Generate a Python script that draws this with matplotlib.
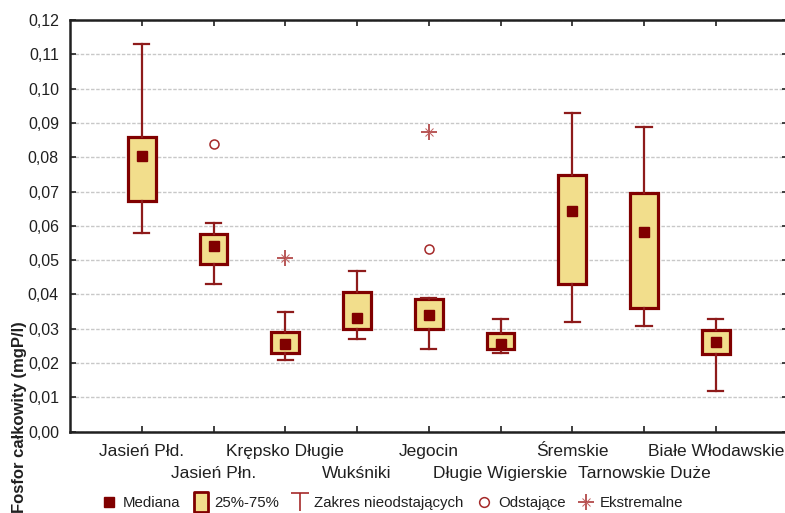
import matplotlib
matplotlib.use('Agg')
import matplotlib.pyplot as plt
from matplotlib.lines import Line2D
from matplotlib.path import Path
from matplotlib.ticker import FuncFormatter

# lakes and box statistics (mgP/l)
names = ['Jasień Płd.', 'Jasień Płn.', 'Krępsko Długie', 'Wukśniki', 'Jegocin',
         'Długie Wigierskie', 'Śremskie', 'Tarnowskie Duże', 'Białe Włodawskie']
median = [0.0804, 0.0541, 0.0256, 0.0331, 0.0340, 0.0255, 0.0643, 0.0582, 0.0261]
q1 = [0.0671, 0.0489, 0.0229, 0.0299, 0.0299, 0.0241, 0.0431, 0.0360, 0.0227]
q3 = [0.0859, 0.0576, 0.0292, 0.0408, 0.0387, 0.0289, 0.0748, 0.0696, 0.0297]
whis_lo = [0.0580, 0.0430, 0.0209, 0.0269, 0.0240, 0.0229, 0.0321, 0.0309, 0.0120]
whis_hi = [0.1129, 0.0609, 0.0350, 0.0469, 0.0391, 0.0329, 0.0929, 0.0889, 0.0329]
# outliers / extremes: (lake number, value)
outlier_pos = [2, 5]
outlier_val = [0.0839, 0.0532]
extreme_pos = [3, 5]
extreme_val = [0.0506, 0.0873]
yticks = [0.00, 0.01, 0.02, 0.03, 0.04, 0.05, 0.06, 0.07, 0.08, 0.09, 0.10, 0.11, 0.12]

DARK = '#800000'
WHISK = '#8e1b1b'
MARK = '#a52a2a'
FILL = '#f2de8c'

plt.rcParams['font.family'] = ['Liberation Sans', 'DejaVu Sans']
plt.rcParams['font.size'] = 11

fig = plt.figure(figsize=(7.85, 5.13), dpi=100)
ax = fig.add_axes([70 / 785, 1 - 431.7 / 513, 717.5 / 785, 411.7 / 513])

pos = list(range(1, len(names) + 1))
stats = []
for i in range(len(names)):
    stats.append({'med': median[i], 'q1': q1[i], 'q3': q3[i],
                  'whislo': whis_lo[i], 'whishi': whis_hi[i], 'fliers': []})

ax.bxp(stats, positions=pos, widths=0.39, capwidths=0.21, patch_artist=True,
       showfliers=False,
       boxprops=dict(facecolor=FILL, edgecolor=DARK, linewidth=2.3),
       whiskerprops=dict(color=WHISK, linewidth=1.6),
       capprops=dict(color=WHISK, linewidth=1.6),
       medianprops=dict(linewidth=0), zorder=3)
ax.plot(pos, median, 's', color=DARK, markersize=7.2, linestyle='none', zorder=4)
ax.plot(outlier_pos, outlier_val, 'o', mfc='none', mec=MARK, mew=1.1,
        markersize=6.5, linestyle='none', zorder=4)
ax.plot(extreme_pos, extreme_val, '+', color=MARK, mew=1.1, markersize=11,
        linestyle='none', zorder=4)
ax.plot(extreme_pos, extreme_val, 'x', color='#c06060', mew=0.7, markersize=6,
        linestyle='none', zorder=4)

ax.set_xlim(0, 10)
ax.set_ylim(0, 0.12)
ax.set_yticks(yticks)
ax.yaxis.set_major_formatter(FuncFormatter(lambda v, p: ('%.2f' % v).replace('.', ',')))
ax.set_xticks(pos)
ax.set_xticklabels(names, fontsize=12.5)
ax.grid(axis='y', color='#c8c8c8', linestyle=(0, (2.5, 1.2)), linewidth=1)
ax.set_axisbelow(True)
ax.tick_params(direction='in', top=True, right=True, length=4, width=1.2,
               colors='#202020', labelcolor='#202020')
ax.tick_params(axis='y', pad=8, labelsize=11.5)
# alternate the lake names over two rows
for i, tick in enumerate(ax.xaxis.get_major_ticks()):
    tick.set_pad(25 if i % 2 else 9)
for s in ax.spines.values():
    s.set_linewidth(1.8)
    s.set_color('#202020')

fig.text(0.025, 1 - 321 / 513, 'Fosfor całkowity (mgP/l)', rotation=90,
         va='top', ha='center', fontweight='bold', fontsize=12, color='#202020')

# legend
box_marker = Path([(-0.33, -0.5), (0.33, -0.5), (0.33, 0.5), (-0.33, 0.5), (-0.33, -0.5)],
                  [Path.MOVETO, Path.LINETO, Path.LINETO, Path.LINETO, Path.CLOSEPOLY])
t_marker = Path([(0, -0.5), (0, 0.5), (-0.5, 0.5), (0.5, 0.5)],
                [Path.MOVETO, Path.LINETO, Path.MOVETO, Path.LINETO])
handles = [
    Line2D([], [], marker='s', color=DARK, markersize=7, linestyle='none'),
    Line2D([], [], marker=box_marker, mfc=FILL, mec=DARK, mew=2, markersize=15,
           linestyle='none'),
    Line2D([], [], marker=t_marker, mfc='none', mec=MARK, mew=1.2,
           markersize=13, linestyle='none'),
    Line2D([], [], marker='o', mfc='none', mec=MARK, mew=1.1, markersize=7,
           linestyle='none'),
    (Line2D([], [], marker='+', color=MARK, mew=1.1, markersize=11, linestyle='none'),
     Line2D([], [], marker='x', color='#c06060', mew=0.7, markersize=6, linestyle='none')),
]
labels = ['Mediana', '25%-75%', 'Zakres nieodstających', 'Odstające', 'Ekstremalne']
fig.legend(handles, labels, loc='center', bbox_to_anchor=(0.5, 1 - 503 / 513),
           ncol=5, frameon=False, fontsize=10.8, handlelength=1.0, handletextpad=0.4,
           columnspacing=0.9, labelcolor='#202020')

fig.savefig('out.png', dpi=100)
